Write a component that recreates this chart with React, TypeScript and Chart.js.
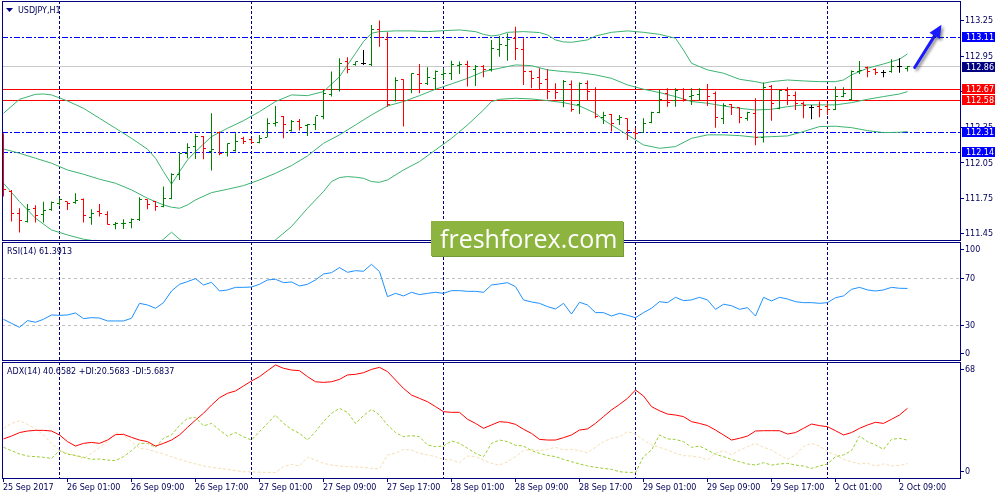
import React, { useEffect, useRef } from "react";
import { Chart, registerables } from "chart.js";
Chart.register(...registerables);

// ---------------- data ----------------
const symbolTitle = "USDJPY,H1";
const rsiTitle = "RSI(14) 61.3913";
const adxTitle = "ADX(14) 40.6582 +DI:20.5683 -DI:5.6837";
const watermark = "freshforex.com";

const openP = [112.272,111.809,111.620,111.556,111.668,111.612,111.660,111.705,111.722,111.719,
111.738,111.589,111.640,111.612,111.528,111.536,111.547,111.570,111.738,111.724,
111.682,111.752,111.949,112.132,112.188,112.272,112.146,112.306,112.138,112.154,
112.258,112.244,112.222,112.267,112.385,112.441,112.323,112.399,112.362,112.371,
112.441,112.629,112.666,112.905,112.877,112.891,112.877,113.178,113.088,112.581,
112.750,112.672,112.793,112.722,112.764,112.793,112.801,112.871,112.877,112.835,
112.863,112.835,113.003,113.045,113.102,113.009,112.821,112.773,112.750,112.672,
112.581,112.708,112.540,112.717,112.666,112.436,112.455,112.419,112.427,112.309,
112.306,112.391,112.475,112.632,112.581,112.666,112.610,112.624,112.672,112.638,
112.427,112.540,112.520,112.427,112.469,112.267,112.694,112.511,112.660,112.615,
112.554,112.520,112.525,112.525,112.497,112.610,112.587,112.818,112.852,112.840,
112.812,112.821,112.863,112.849];
const highP = [112.301,111.823,111.668,111.705,111.693,111.722,111.724,111.750,111.724,111.795,
111.750,111.660,111.705,111.643,111.553,111.575,111.581,111.761,111.744,111.730,
111.851,111.963,112.132,112.216,112.295,112.278,112.469,112.315,112.216,112.301,
112.272,112.258,112.287,112.427,112.531,112.447,112.413,112.421,112.379,112.441,
112.666,112.821,112.933,112.942,112.905,113.003,113.214,113.251,113.152,112.773,
112.756,112.807,112.885,112.857,112.829,112.849,112.913,112.905,112.913,112.877,
112.877,113.088,113.121,113.144,113.200,113.102,112.829,112.849,112.840,112.722,
112.750,112.745,112.728,112.745,112.689,112.483,112.464,112.455,112.427,112.343,
112.427,112.483,112.666,112.680,112.680,112.680,112.680,112.680,112.717,112.652,
112.554,112.548,112.520,112.483,112.596,112.728,112.708,112.666,112.689,112.652,
112.568,112.540,112.568,112.559,112.694,112.689,112.829,112.911,112.863,112.849,
112.835,112.925,112.933,112.868];
const lowP = [111.767,111.556,111.463,111.547,111.547,111.547,111.648,111.691,111.654,111.707,
111.547,111.528,111.598,111.528,111.491,111.494,111.499,111.561,111.660,111.648,
111.677,111.744,111.907,112.090,112.084,112.081,111.986,112.115,112.104,112.146,
112.211,112.216,112.216,112.267,112.357,112.258,112.315,112.323,112.278,112.329,
112.419,112.610,112.652,112.807,112.871,112.877,112.868,113.031,112.525,112.568,
112.357,112.638,112.638,112.708,112.666,112.750,112.750,112.801,112.694,112.700,
112.773,112.821,112.947,112.913,112.919,112.708,112.680,112.672,112.587,112.587,
112.520,112.483,112.464,112.576,112.427,112.379,112.315,112.371,112.244,112.258,
112.306,112.385,112.469,112.525,112.525,112.568,112.540,112.576,112.531,112.348,
112.379,112.455,112.385,112.407,112.199,112.222,112.407,112.503,112.540,112.497,
112.427,112.419,112.436,112.455,112.497,112.604,112.581,112.801,112.773,112.793,
112.773,112.812,112.812,112.821];
const closeP = [111.823,111.626,111.561,111.660,111.603,111.648,111.719,111.744,111.705,111.730,
111.603,111.626,111.626,111.533,111.542,111.542,111.570,111.744,111.696,111.682,
111.752,111.949,112.126,112.182,112.272,112.168,112.160,112.132,112.211,112.230,
112.230,112.222,112.258,112.379,112.391,112.371,112.399,112.351,112.371,112.447,
112.638,112.666,112.891,112.835,112.905,112.891,113.172,113.110,112.540,112.745,
112.672,112.801,112.717,112.773,112.821,112.801,112.877,112.877,112.863,112.863,
112.835,113.017,113.051,113.093,113.017,112.821,112.764,112.722,112.652,112.644,
112.736,112.503,112.722,112.652,112.441,112.447,112.379,112.436,112.323,112.301,
112.379,112.475,112.587,112.559,112.660,112.587,112.615,112.666,112.610,112.436,
112.531,112.520,112.436,112.475,112.267,112.689,112.554,112.660,112.615,112.548,
112.531,112.520,112.503,112.503,112.610,112.638,112.821,112.826,112.823,112.812,
112.812,112.863,112.863,112.860];

const bbUpperIdx = [0,2,4,5,6,8,10,12,14,16,18,19,20,21,22,23,24,26,28,30,32,34,36,38,40,42,44,45,46,47,49,51,53,55,57,59,60,61,62,63,65,67,68,69,70,71,73,74,76,78,80,82,84,85,86,87,88,90,92,94,95,96,98,100,102,104,105,106,108,110,112,113];
const bbUpperVal = [112.469,112.587,112.629,112.632,112.624,112.573,112.511,112.427,112.343,112.258,
112.166,112.090,111.977,111.871,111.977,112.076,112.146,112.272,112.343,112.407,
112.483,112.568,112.624,112.618,112.652,112.778,112.975,113.074,113.144,113.158,
113.164,113.164,113.158,113.166,113.172,113.158,113.135,113.121,113.130,113.152,
113.158,113.150,113.130,113.088,113.071,113.068,113.088,113.121,113.152,113.164,
113.152,113.135,113.102,113.003,112.891,112.863,112.835,112.807,112.756,112.736,
112.722,112.736,112.750,112.742,112.736,112.736,112.750,112.793,112.849,112.885,
112.925,112.970];
const bbMiddleIdx = [0,2,4,6,8,10,12,14,16,18,20,21,22,23,24,26,28,30,32,34,36,38,40,42,44,46,48,50,52,54,56,58,60,62,64,66,68,70,72,74,76,78,80,82,84,86,88,90,92,94,96,98,100,102,104,106,108,110,112,113];
const bbMiddleVal = [112.168,112.132,112.090,112.048,111.991,111.955,111.913,111.879,111.823,111.752,
111.696,111.677,111.668,111.696,111.738,111.800,111.828,111.859,111.907,111.963,
112.028,112.109,112.216,112.287,112.371,112.455,112.531,112.568,112.618,112.672,
112.717,112.764,112.821,112.849,112.877,112.871,112.835,112.821,112.812,112.793,
112.764,112.708,112.672,112.644,112.610,112.568,112.554,112.531,112.511,112.497,
112.503,112.525,112.540,112.540,112.540,112.559,112.587,112.610,112.632,112.652];
const bbLowerIdx = [0,2,4,6,8,10,12,14,16,18,19,20,21,22,24,26,28,30,32,34,36,38,40,41,42,43,44,45,46,47,48,50,52,54,56,58,60,61,62,64,66,68,70,72,74,75,76,78,80,82,84,86,88,90,92,94,96,98,100,102,104,106,108,110,112,113];
const bbLowerVal = [111.879,111.724,111.584,111.485,111.443,111.407,111.387,111.376,111.387,111.339,
111.359,111.407,111.466,111.407,111.331,111.328,111.314,111.311,111.331,111.401,
111.514,111.668,111.809,111.893,111.927,111.935,111.930,111.921,111.893,111.887,
111.907,111.991,112.062,112.160,112.258,112.371,112.497,112.568,112.587,112.596,
112.590,112.576,112.559,112.531,112.469,112.413,112.371,112.287,112.202,112.174,
112.188,112.258,112.287,112.287,112.281,112.267,112.272,112.278,112.315,112.357,
112.360,112.348,112.323,112.306,112.309,112.315];

const rsiVals = [35.1,31.7,28.3,34.0,32.6,35.1,38.8,38.5,38.8,40.5,
35.7,36.5,36.2,33.7,33.7,33.7,36.0,48.7,47.3,44.5,
49.3,59.2,64.9,67.2,69.7,64.3,66.6,59.2,60.1,62.3,
62.3,62.6,64.9,68.6,69.2,66.3,66.9,63.5,64.9,68.6,
73.7,74.8,79.1,75.1,76.5,76.0,81.9,75.7,54.4,57.2,
55.0,58.1,56.1,57.2,58.1,57.2,59.5,59.5,58.9,58.9,
58.1,64.3,65.2,66.3,62.9,51.6,49.9,48.7,45.9,43.9,
48.7,39.6,49.6,47.3,40.8,40.8,37.9,40.2,38.5,36.5,
40.8,44.5,50.1,49.3,53.8,51.0,51.6,53.8,51.6,43.6,
47.9,46.7,43.6,45.0,37.9,53.8,50.7,53.8,52.4,50.1,
49.3,49.3,48.7,49.3,53.5,55.0,60.6,62.3,60.1,59.2,
60.1,62.3,61.5,61.3913];

const adxVals = [21.3,23.1,25.3,26.3,26.7,26.7,26.3,23.8,19.6,16.8,
18.5,19.1,18.5,20.6,24.0,24.2,22.3,20.6,19.6,16.8,
18.5,20.6,23.8,28.6,33.2,37.5,42.7,47.3,50.1,51.6,
54.7,57.9,60.6,64.4,68.0,65.9,64.8,64.4,60.6,57.4,
57.0,57.4,58.9,61.7,62.1,63.1,65.2,66.5,63.8,58.5,
53.2,49.0,46.9,44.8,41.7,38.5,38.1,38.1,33.7,31.1,
28.0,30.1,32.2,31.8,30.5,27.4,24.8,21.0,20.6,20.6,
22.1,23.8,26.9,27.6,31.1,35.4,39.6,43.1,46.9,52.2,
48.4,41.7,39.1,37.0,36.4,35.4,32.2,31.1,29.7,26.9,
23.8,20.6,21.7,23.1,26.3,26.5,26.5,26.5,24.4,25.3,
28.0,30.7,29.7,29.0,26.5,23.8,25.3,28.0,30.1,31.8,
31.1,33.7,36.4,40.6582];
const plusDiVals = [16.0,13.9,11.8,10.5,10.1,9.7,9.0,13.9,11.6,10.9,
9.7,8.4,8.6,8.0,7.6,10.1,13.9,18.5,18.5,16.0,
21.7,23.8,29.7,34.3,34.9,29.5,31.1,26.9,23.1,25.3,
22.7,20.6,25.9,31.1,36.4,31.1,27.4,24.8,20.6,25.9,
32.2,37.5,40.6,38.1,31.1,36.0,40.0,36.4,30.1,25.3,
22.7,23.4,22.7,17.5,16.4,16.8,20.0,18.5,15.4,12.2,
10.1,18.5,20.6,19.6,17.3,16.8,13.9,12.2,10.9,10.1,
8.4,6.9,5.5,4.2,3.4,2.7,2.1,0.6,0.2,0.1,
10.1,14.3,23.8,21.3,21.0,19.6,16.0,16.8,14.3,11.6,
10.1,8.4,6.9,5.5,4.8,6.3,4.8,5.5,5.9,4.8,
4.2,2.7,4.2,5.5,10.1,11.2,13.9,23.1,19.6,17.5,
14.7,21.0,21.7,20.5683];
const minusDiVals = [28.0,31.1,32.8,30.5,27.6,23.8,18.5,14.3,12.2,10.7,
9.0,12.2,16.0,19.6,25.3,23.8,19.6,15.4,14.7,13.3,
11.8,10.1,8.4,6.9,5.5,4.2,3.4,2.7,2.1,1.3,
0.6,0.5,0.3,0.2,0.1,3.8,5.3,4.2,9.7,8.0,
5.9,4.8,4.2,3.8,3.6,3.4,2.7,2.5,11.2,12.2,
14.7,14.3,12.2,11.2,10.1,8.4,8.0,6.3,10.5,10.1,
8.0,5.9,4.8,6.9,10.1,13.9,14.7,13.9,14.7,16.0,
14.3,14.7,13.9,12.6,16.0,19.6,21.7,22.7,25.9,24.4,
20.6,17.5,16.0,14.3,12.2,10.7,10.5,9.7,8.0,12.2,
13.9,11.2,14.3,16.4,18.5,16.0,14.3,11.2,8.4,11.2,
16.4,18.5,16.8,13.3,11.2,8.4,6.9,5.5,5.9,4.2,
5.5,4.2,4.5,5.6837];

const dayStartIdx = [7, 31, 55, 79, 103];
const timeTickIdx = [0, 8, 16, 24, 32, 40, 48, 56, 64, 72, 80, 88, 96, 104, 112];
const timeTickLabels = ["25 Sep 2017", "26 Sep 01:00", "26 Sep 09:00", "26 Sep 17:00", "27 Sep 01:00",
  "27 Sep 09:00", "27 Sep 17:00", "28 Sep 01:00", "28 Sep 09:00", "28 Sep 17:00", "29 Sep 01:00",
  "29 Sep 09:00", "29 Sep 17:00", "2 Oct 01:00", "2 Oct 09:00"];
const priceTicks = [113.25, 112.95, 112.65, 112.35, 112.05, 111.75, 111.45];
const blueLevels = [113.11, 112.31, 112.14];
const redLevels = [112.67, 112.58];
const bidPrice = 112.86;
const rsiTicks = [100, 70, 30, 0];
const rsiLevels = [70, 30];
const adxTicks = [68, 0];
const arrowStart = [113.9, 112.855];
const arrowEnd = [117.25, 113.215];

// ---------------- styles ----------------
const FONT = '8px "DejaVu Sans", sans-serif';
const TXT = "#00005a";
const NAVY = "#000080";
const UP = "#008000";
const DOWN = "#ff0000";
const BB = "#3cb371";
const X_MIN = -0.1875;
const X_MAX = 119.5625;

const barIdx = openP.map((_, i) => i);
const candleColors = closeP.map((c, i) => (c > openP[i] ? UP : c < openP[i] ? DOWN : "#000000"));

function pts(xs: number[], ys: number[]) {
  return xs.map((x, k) => ({ x, y: ys[k] }));
}

function clipArea(chart: any) {
  const { ctx, chartArea: a } = chart;
  ctx.beginPath();
  ctx.rect(a.left, a.top, a.right - a.left + 1, a.bottom - a.top + 1);
  ctx.clip();
}

function drawSeparators(chart: any) {
  const { ctx, chartArea: a, scales } = chart;
  ctx.save();
  ctx.strokeStyle = NAVY;
  ctx.lineWidth = 1;
  ctx.setLineDash([3, 2]);
  dayStartIdx.forEach((i) => {
    const px = Math.floor(scales.x.getPixelForValue(i)) + 0.5;
    ctx.beginPath();
    ctx.moveTo(px, a.top);
    ctx.lineTo(px, a.bottom);
    ctx.stroke();
  });
  ctx.restore();
}

function hLine(chart: any, v: number, color: string, dash: number[]) {
  const { ctx, chartArea: a, scales } = chart;
  const py = Math.floor(scales.y.getPixelForValue(v)) + 0.5;
  ctx.save();
  ctx.strokeStyle = color;
  ctx.lineWidth = 1;
  ctx.setLineDash(dash);
  ctx.beginPath();
  ctx.moveTo(a.left, py);
  ctx.lineTo(a.right, py);
  ctx.stroke();
  ctx.restore();
}

function drawFrame(chart: any) {
  const { ctx, chartArea: a } = chart;
  ctx.save();
  ctx.strokeStyle = NAVY;
  ctx.lineWidth = 1;
  ctx.setLineDash([]);
  ctx.strokeRect(a.left + 0.5, a.top + 0.5, a.right - a.left, a.bottom - a.top);
  ctx.restore();
}

function yLabels(chart: any, ticks: number[], fmt: (v: number) => string) {
  const { ctx, chartArea: a, scales } = chart;
  ctx.save();
  ctx.font = FONT;
  ctx.textBaseline = "middle";
  ctx.textAlign = "left";
  ticks.forEach((v) => {
    const py = scales.y.getPixelForValue(v);
    const ty = Math.min(Math.max(py, a.top + 7), a.bottom - 7);
    ctx.fillStyle = NAVY;
    ctx.fillRect(a.right + 1, Math.floor(ty), 3, 1);
    ctx.fillStyle = TXT;
    ctx.fillText(fmt(v), a.right + 5, ty + 0.5);
  });
  ctx.restore();
}

function priceBox(chart: any, v: number, bg: string) {
  const { ctx, chartArea: a, scales } = chart;
  const py = Math.round(scales.y.getPixelForValue(v));
  ctx.save();
  ctx.fillStyle = bg;
  ctx.fillRect(a.right + 2, py - 5, 33, 10);
  ctx.font = FONT;
  ctx.textBaseline = "middle";
  ctx.fillStyle = "#ffffff";
  ctx.fillText(v.toFixed(2), a.right + 6, py + 0.5);
  ctx.restore();
}

function title(chart: any, text: string, x: number, y: number) {
  const { ctx } = chart;
  ctx.save();
  ctx.font = FONT;
  ctx.textBaseline = "middle";
  ctx.fillStyle = TXT;
  ctx.fillText(text, x, y);
  ctx.restore();
}

const mainPlugin = {
  id: "mainDecor",
  beforeDatasetsDraw(chart: any) {
    const { ctx } = chart;
    ctx.save();
    clipArea(chart);
    drawSeparators(chart);
    hLine(chart, bidPrice, "#c8c8c8", []);
    blueLevels.forEach((v) => hLine(chart, v, "#0000ff", [6, 2, 2, 2]));
    redLevels.forEach((v) => hLine(chart, v, "#ff0000", []));
    ctx.restore();
  },
  afterDatasetsDraw(chart: any) {
    const { ctx, scales } = chart;
    ctx.save();
    clipArea(chart);
    barIdx.forEach((i) => {
      const px = Math.floor(scales.x.getPixelForValue(i));
      const yo = Math.floor(scales.y.getPixelForValue(openP[i]));
      const yc = Math.floor(scales.y.getPixelForValue(closeP[i]));
      ctx.fillStyle = candleColors[i];
      ctx.fillRect(px - 2, yo, 2, 1);
      ctx.fillRect(px + 1, yc, 2, 1);
    });
    ctx.restore();
  },
  afterDraw(chart: any) {
    const { ctx, scales } = chart;
    drawFrame(chart);
    yLabels(chart, priceTicks, (v) => v.toFixed(2));
    blueLevels.forEach((v) => priceBox(chart, v, "#0000ff"));
    redLevels.forEach((v) => priceBox(chart, v, "#ff0000"));
    priceBox(chart, bidPrice, "#000080");
    // title with dropdown triangle
    ctx.save();
    ctx.fillStyle = NAVY;
    ctx.beginPath();
    ctx.moveTo(6, 8);
    ctx.lineTo(13, 8);
    ctx.lineTo(9.5, 12);
    ctx.closePath();
    ctx.fill();
    ctx.restore();
    title(chart, symbolTitle, 18, 11);
    // arrow
    const x0 = scales.x.getPixelForValue(arrowStart[0]);
    const y0 = scales.y.getPixelForValue(arrowStart[1]);
    const x1 = scales.x.getPixelForValue(arrowEnd[0]);
    const y1 = scales.y.getPixelForValue(arrowEnd[1]);
    const ang = Math.atan2(y1 - y0, x1 - x0);
    const hl = 13, hw = 6;
    const bx = x1 - hl * Math.cos(ang), by = y1 - hl * Math.sin(ang);
    ctx.save();
    ctx.shadowColor = "rgba(0,0,0,0.45)";
    ctx.shadowBlur = 3;
    ctx.shadowOffsetX = 2;
    ctx.shadowOffsetY = 2;
    ctx.strokeStyle = "#1a1aff";
    ctx.fillStyle = "#1a1aff";
    ctx.lineWidth = 3;
    ctx.lineCap = "round";
    ctx.beginPath();
    ctx.moveTo(x0, y0);
    ctx.lineTo(bx, by);
    ctx.stroke();
    ctx.beginPath();
    ctx.moveTo(x1, y1);
    ctx.lineTo(bx + hw * Math.sin(ang), by - hw * Math.cos(ang));
    ctx.lineTo(bx - hw * Math.sin(ang), by + hw * Math.cos(ang));
    ctx.closePath();
    ctx.fill();
    ctx.restore();
  },
};

const rsiPlugin = {
  id: "rsiDecor",
  beforeDatasetsDraw(chart: any) {
    const { ctx } = chart;
    ctx.save();
    clipArea(chart);
    rsiLevels.forEach((v) => hLine(chart, v, "#c0c0c0", [3, 3]));
    drawSeparators(chart);
    ctx.restore();
  },
  afterDraw(chart: any) {
    drawFrame(chart);
    yLabels(chart, rsiTicks, (v) => String(v));
    title(chart, rsiTitle, 7, 11);
  },
};

const adxPlugin = {
  id: "adxDecor",
  beforeDatasetsDraw(chart: any) {
    const { ctx } = chart;
    ctx.save();
    clipArea(chart);
    drawSeparators(chart);
    ctx.restore();
  },
  afterDraw(chart: any) {
    const { ctx, chartArea: a, scales } = chart;
    drawFrame(chart);
    yLabels(chart, adxTicks, (v) => String(v));
    title(chart, adxTitle, 7, 11);
    ctx.save();
    ctx.font = FONT;
    ctx.textBaseline = "middle";
    ctx.textAlign = "left";
    timeTickIdx.forEach((i, k) => {
      const px = Math.floor(scales.x.getPixelForValue(i));
      ctx.fillStyle = NAVY;
      ctx.fillRect(px, a.bottom + 1, 1, 3);
      ctx.fillStyle = TXT;
      ctx.fillText(timeTickLabels[k], px, a.bottom + 10);
    });
    ctx.restore();
  },
};

function baseOptions(padding: any, yMin: number, yMax: number) {
  return {
    responsive: false,
    maintainAspectRatio: false,
    animation: false as const,
    devicePixelRatio: 1,
    events: [] as any[],
    layout: { padding },
    plugins: { legend: { display: false }, tooltip: { enabled: false } },
    scales: {
      x: { type: "linear" as const, min: X_MIN, max: X_MAX, display: false, offset: false },
      y: { type: "linear" as const, min: yMin, max: yMax, display: false },
    },
  };
}

function lineDs(data: any[], color: string, dash: number[], order: number) {
  return {
    type: "line" as const,
    data,
    borderColor: color,
    borderWidth: 1,
    borderDash: dash,
    pointRadius: 0,
    tension: 0,
    fill: false,
    order,
  };
}

export default function App() {
  const mainRef = useRef<HTMLCanvasElement>(null);
  const rsiRef = useRef<HTMLCanvasElement>(null);
  const adxRef = useRef<HTMLCanvasElement>(null);

  useEffect(() => {
    const main = new Chart(mainRef.current as HTMLCanvasElement, {
      type: "bar",
      data: {
        datasets: [
          {
            type: "bar",
            data: barIdx.map((i) => ({ x: i, y: [lowP[i], highP[i]] })) as any,
            backgroundColor: candleColors,
            borderWidth: 0,
            barThickness: 1,
            inflateAmount: 0,
            order: 0,
          } as any,
          lineDs(pts(bbUpperIdx, bbUpperVal), BB, [], 1),
          lineDs(pts(bbMiddleIdx, bbMiddleVal), BB, [], 1),
          lineDs(pts(bbLowerIdx, bbLowerVal), BB, [], 1),
        ],
      },
      options: baseOptions({ left: 2, top: 1, right: 40, bottom: 1 }, 111.4003, 113.4162) as any,
      plugins: [mainPlugin],
    });

    const rsi = new Chart(rsiRef.current as HTMLCanvasElement, {
      type: "line",
      data: {
        datasets: [lineDs(pts(barIdx, rsiVals), "#1e90ff", [], 0)],
      },
      options: baseOptions({ left: 2, top: 1, right: 40, bottom: 1 }, 0.47, 100.9) as any,
      plugins: [rsiPlugin],
    });

    const adx = new Chart(adxRef.current as HTMLCanvasElement, {
      type: "line",
      data: {
        datasets: [
          lineDs(pts(barIdx, adxVals), "#ff0000", [], 0),
          lineDs(pts(barIdx, plusDiVals), "#9acd32", [3, 2], 1),
          lineDs(pts(barIdx, minusDiVals), "#f5deb3", [3, 2], 2),
        ],
      },
      options: baseOptions({ left: 2, top: 1, right: 40, bottom: 22 }, -3.37, 69.87) as any,
      plugins: [adxPlugin],
    });

    return () => {
      main.destroy();
      rsi.destroy();
      adx.destroy();
    };
  }, []);

  return (
    <div
      style={{
        position: "fixed",
        left: 0,
        top: 0,
        width: 1000,
        height: 500,
        background: "#ffffff",
        overflow: "hidden",
      }}
    >
      <canvas ref={mainRef} width={1000} height={241} style={{ position: "absolute", left: 0, top: 0 }} />
      <canvas ref={rsiRef} width={1000} height={120} style={{ position: "absolute", left: 0, top: 241 }} />
      <canvas ref={adxRef} width={1000} height={139} style={{ position: "absolute", left: 0, top: 361 }} />
      <div
        style={{
          position: "absolute",
          left: 431,
          top: 221,
          width: 192,
          height: 35,
          background: "#8cb43f",
          boxShadow: "1px 1px 0 #76993a",
        }}
      >
        <span
          style={{
            position: "absolute",
            left: 9,
            top: 0,
            lineHeight: "34px",
            fontFamily: '"Open Sans", sans-serif',
            fontSize: 25,
            color: "#ffffff",
            whiteSpace: "nowrap",
          }}
        >
          {watermark}
        </span>
      </div>
    </div>
  );
}
